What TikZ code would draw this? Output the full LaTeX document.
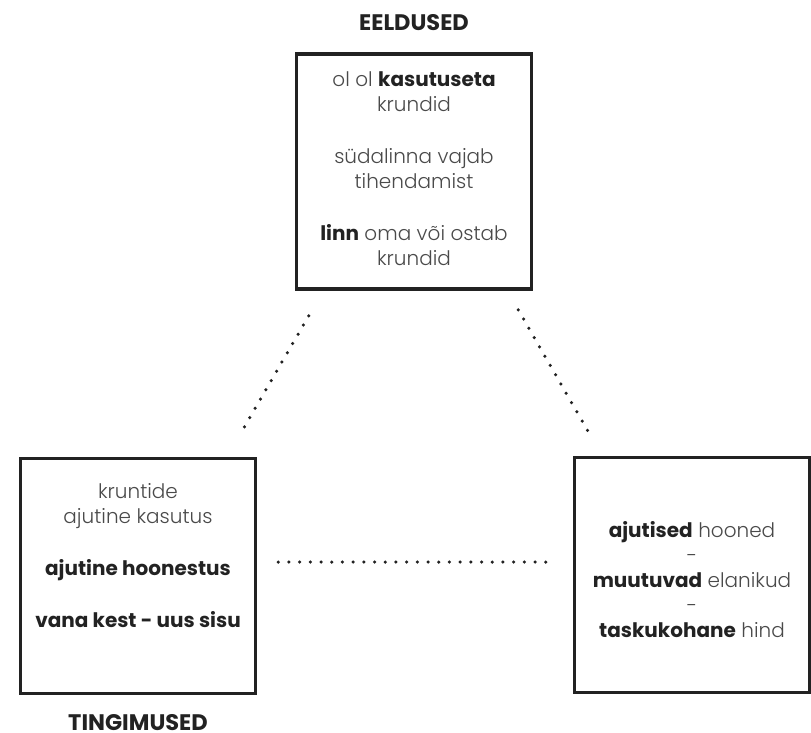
\documentclass[tikz,border=0pt]{standalone}
\usepackage{fontspec}
\setmainfont{Poppins}
\newfontfamily\lightfont{Poppins Light}
\usetikzlibrary{positioning,calc}

\definecolor{joon}{HTML}{222222}
\definecolor{hall}{HTML}{4A4A4A}

\tikzset{
  kast/.style={rectangle, draw=joon, line width=3.5pt, minimum width=235pt, minimum height=235pt},
  tekst/.style={align=center, text=hall, inner sep=0pt, font=\lightfont\fontsize{20}{25}\selectfont},
  pealkiri/.style={inner sep=0pt, text=joon, font=\bfseries\fontsize{22.5}{24}\selectfont},
  punktid/.style={joon, line width=3.5pt, line cap=round, dash pattern=on 0pt off 10.7pt}
}
\newcommand{\rasv}[1]{{\normalfont\bfseries\color{joon}#1}}

\begin{document}
\begin{tikzpicture}[x=1pt, y=-1pt]
    \useasboundingbox (0,0) rectangle (811,732);

    % kastid
    \node[kast] (eeldused)   at (414,171.5) {};
    \node[kast] (tingimused) at (138,576) {};
    \node[kast] (tulemus)    at (692,575) {};

    \node[pealkiri, above=21pt of eeldused]   (eeldusedpk)   {EELDUSED};
    \node[pealkiri, below=19pt of tingimused] (tingimusedpk) {TINGIMUSED};

    % tekstid
    \node[tekst] (eeldusedtk) at ([yshift=3pt]eeldused.center)
        {ol ol \rasv{kasutuseta}\\ krundid\\[27pt]
         südalinna vajab\\ tihendamist\\[27pt]
         \rasv{linn} oma või ostab\\ krundid};
    \node[tekst] (tingimusedtk) at ([yshift=20pt]tingimused.center)
        {kruntide\\ ajutine kasutus\\[27pt]
         \rasv{ajutine hoonestus}\\[27pt]
         \rasv{vana kest - uus sisu}};
    \node[tekst] (tulemustk) at ([yshift=-5pt]tulemus.center)
        {\rasv{ajutised} hooned\\ -\\ \rasv{muutuvad} elanikud\\ -\\
         \rasv{taskukohane} hind};

    % punktiirid
    \draw[punktid] ([xshift=14pt,yshift=-25pt]eeldused.south west) -- ([xshift=-18pt,yshift=21pt]tingimused.north east);
    \draw[punktid] ([xshift=-15pt,yshift=-19pt]eeldused.south east) -- ([xshift=19pt,yshift=18pt]tulemus.north west);
    \draw[punktid] ([xshift=21pt,yshift=14pt]tingimused.east) -- ([xshift=-18pt,yshift=13pt]tulemus.west);
\end{tikzpicture}
\end{document}
